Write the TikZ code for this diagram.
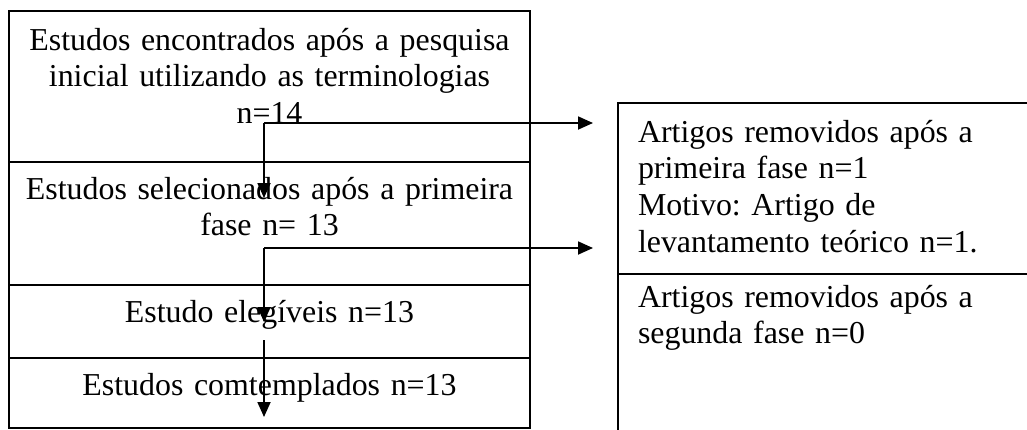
\documentclass[tikz,border=0pt]{standalone}
\usepackage{fontspec}
\setmainfont{Liberation Serif}[WordSpace=0.8]
\frenchspacing
\usetikzlibrary{positioning}
\usetikzlibrary{arrows.meta}

\begin{document}
\begin{tikzpicture}
          [x=1pt, y=-1pt,
           every node/.style={font=\fontsize{31.9}{36.7}\selectfont, inner sep=0pt, outer sep=0pt},
           stagebox/.style={draw, line width=1.2pt, text width=521pt, align=center, text height=38pt},
           removedbox/.style={draw, line width=1.2pt, text width=390pt, inner xsep=20pt, align=left},
           flow/.style={line width=1.8pt, -{Triangle[length=15pt, width=13pt]}}]
          \path[use as bounding box, clip] (0,0) rectangle (1027,429);

          \node (found) [stagebox, text height=39pt, text depth=112pt, anchor=north west] at (9,11)
            {Estudos encontrados após a pesquisa\\ inicial utilizando as terminologias\\ n=14};
          \node (selected) [stagebox, text height=37pt, text depth=86pt, below=0pt of found]
            {Estudos selecionados após a primeira\\ fase n= 13};
          \node (eligible) [stagebox, text height=37pt, text depth=36pt, below=0pt of selected]
            {Estudo elegíveis n=13};
          \node (included) [stagebox, text height=37pt, text depth=33pt, below=0pt of eligible]
            {Estudos comtemplados n=13};

          \node (removed1) [removedbox, text height=39pt, text depth=132pt, anchor=north west] at (618,103)
            {Artigos removidos após a\\ primeira fase n=1\\ Motivo: Artigo de\\ levantamento teórico n=1.};
          \node (removed2) [removedbox, text height=33pt, text depth=150pt, below=0pt of removed1]
            {Artigos removidos após a\\ segunda fase n=0};

          \coordinate (split1) at (264,123);
          \coordinate (split2) at (264,248);
          \coordinate (out1) at (593,123);
          \coordinate (out2) at (593,248);
          \coordinate (down1) at (264,198);
          \coordinate (down2) at (264,322);
          \coordinate (tail3) at (264,340);
          \coordinate (down3) at (264,417);

          \draw[flow] (split1) -- (out1);
          \draw[flow] (split1) -- (down1);
          \draw[flow] (split2) -- (out2);
          \draw[flow] (split2) -- (down2);
          \draw[flow] (tail3) -- (down3);

        \end{tikzpicture}
\end{document}
